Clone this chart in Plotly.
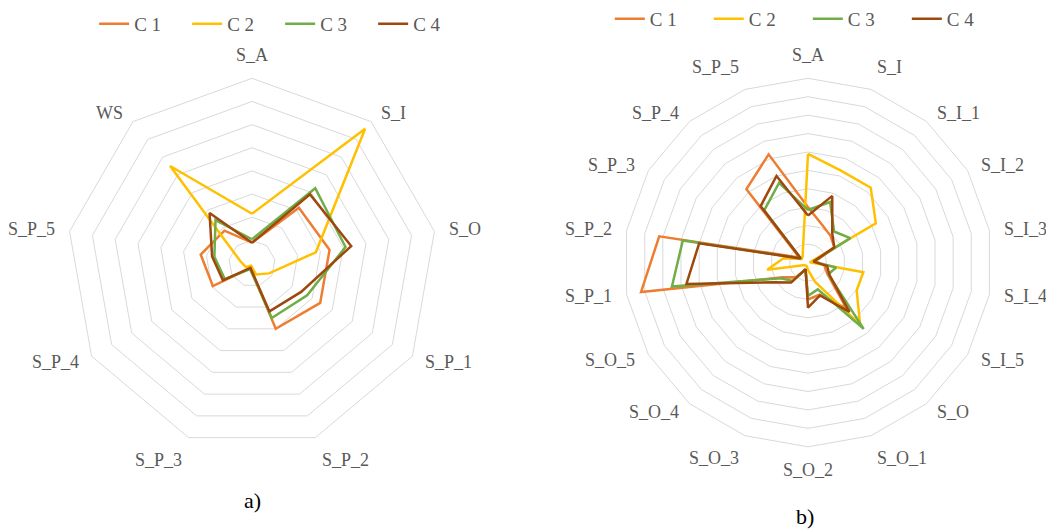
import math
import plotly.graph_objects as go

# chart a) - 9 axes
cats_a = ["S_A", "S_I", "S_O", "S_P_1", "S_P_2", "S_P_3", "S_P_4", "S_P_5", "WS"]
a_c1 = [0.9, 3.15, 3.4, 3.4, 3.0, 0.2, 1.95, 2.25, 1.85]
a_c2 = [2.15, 7.6, 2.8, 0.85, 0.5, 0.1, 0.3, 0.5, 5.5]
a_c3 = [1.05, 4.25, 4.1, 2.75, 2.5, 0.25, 1.35, 1.65, 2.45]
a_c4 = [0.9, 3.9, 4.35, 2.45, 2.2, 0.2, 1.45, 1.75, 2.85]

# chart b) - 18 axes
cats_b = ["S_A", "S_I", "S_I_1", "S_I_2", "S_I_3", "S_I_4", "S_I_5", "S_O", "S_O_1",
          "S_O_2", "S_O_3", "S_O_4", "S_O_5", "S_P_1", "S_P_2", "S_P_3", "S_P_4", "S_P_5"]
b_c1 = [3.0, 2.2, 1.9, 1.65, 0.4, 0.9, 1.2, 3.25, 1.85, 2.0, 0.4, 1.05, 1.6, 9.2, 8.2, 0.55, 5.2, 6.25]
b_c2 = [5.9, 5.3, 5.3, 4.25, 0.1, 3.05, 3.05, 4.4, 1.1, 0.4, 0.2, 0.2, 0.3, 2.25, 1.35, 0.4, 0.45, 0.8]
b_c3 = [2.85, 3.5, 2.2, 2.65, 0.3, 1.55, 1.27, 4.7, 1.55, 1.8, 0.4, 1.3, 1.7, 7.5, 6.9, 0.45, 3.7, 4.6]
b_c4 = [2.55, 3.85, 2.05, 1.65, 0.3, 1.05, 1.35, 3.5, 1.9, 2.45, 0.38, 1.42, 2.15, 6.7, 6.0, 0.45, 4.0, 5.0]

names = ["C 1", "C 2", "C 3", "C 4"]
colors = ["#ED7D31", "#FFC000", "#70AD47", "#9E480E"]
serif = "Liberation Serif"
W, H = 1046, 531

fig = go.Figure()

for name, vals, col in zip(names, [a_c1, a_c2, a_c3, a_c4], colors):
    fig.add_trace(go.Scatterpolar(r=vals + vals[:1], theta=cats_a + cats_a[:1],
                                  mode="lines", name=name, line=dict(color=col, width=2.5),
                                  subplot="polar", legend="legend"))

for name, vals, col in zip(names, [b_c1, b_c2, b_c3, b_c4], colors):
    fig.add_trace(go.Scatterpolar(r=vals + vals[:1], theta=cats_b + cats_b[:1],
                                  mode="lines", name=name, line=dict(color=col, width=2.5),
                                  subplot="polar2", legend="legend2"))


# category labels placed excel-style just outside each polygon vertex
def axis_labels(cats, cx, cy, rad, gap=11):
    out = []
    n = len(cats)
    for i, c in enumerate(cats):
        ang = math.radians(90 - 360 * i / n)
        dx, dy = math.cos(ang), -math.sin(ang)
        px = cx + (rad + gap) * dx
        py = cy + (rad + gap) * dy
        xa = "left" if dx > 0.2 else ("right" if dx < -0.2 else "center")
        ya = "bottom" if dy < -0.9 else ("top" if dy > 0.9 else "middle")
        out.append(dict(text=c, x=px / W, y=1 - py / H, xref="paper", yref="paper",
                        xanchor=xa, yanchor=ya, showarrow=False,
                        font=dict(family=serif, size=18, color="#595959")))
    return out


radial = dict(showticklabels=False, ticks="", showline=False, gridcolor="#d9d9d9",
              gridwidth=1)
angular = dict(rotation=90, direction="clockwise", showgrid=False, showline=True,
               linecolor="#d9d9d9", ticks="", showticklabels=False)

annots = axis_labels(cats_a, 252, 261, 187) + axis_labels(cats_b, 808, 260, 186)
annots += [
    dict(text="a)", x=252 / W, y=1 - 500 / H, xref="paper", yref="paper", showarrow=False,
         xanchor="center", yanchor="middle", font=dict(family=serif, size=22, color="black")),
    dict(text="b)", x=805 / W, y=1 - 516 / H, xref="paper", yref="paper", showarrow=False,
         xanchor="center", yanchor="middle", font=dict(family=serif, size=22, color="black")),
]

fig.update_layout(
    width=W, height=H,
    margin=dict(l=0, r=0, t=0, b=0),
    paper_bgcolor="white",
    polar=dict(domain=dict(x=[(252 - 187) / W, (252 + 187) / W],
                           y=[1 - (261 + 187) / H, 1 - (261 - 187) / H]),
               gridshape="linear", bgcolor="white",
               radialaxis=dict(range=[0, 8], dtick=1, **radial),
               angularaxis=dict(categoryarray=cats_a, categoryorder="array", **angular)),
    polar2=dict(domain=dict(x=[(808 - 186) / W, (808 + 186) / W],
                            y=[1 - (260 + 186) / H, 1 - (260 - 186) / H]),
                gridshape="linear", bgcolor="white",
                radialaxis=dict(range=[0, 10], dtick=1, **radial),
                angularaxis=dict(categoryarray=cats_b, categoryorder="array", **angular)),
    legend=dict(orientation="h", x=0.09, y=1.0, xanchor="left", yanchor="top",
                font=dict(family=serif, size=19, color="#595959"),
                entrywidth=48, itemwidth=30),
    legend2=dict(orientation="h", x=0.583, y=1.01, xanchor="left", yanchor="top",
                 font=dict(family=serif, size=19, color="#595959"),
                 entrywidth=54, itemwidth=30),
    annotations=annots,
)

fig.write_html("out.html", config={"displayModeBar": False},
               post_script="document.body.style.margin='0px';")
